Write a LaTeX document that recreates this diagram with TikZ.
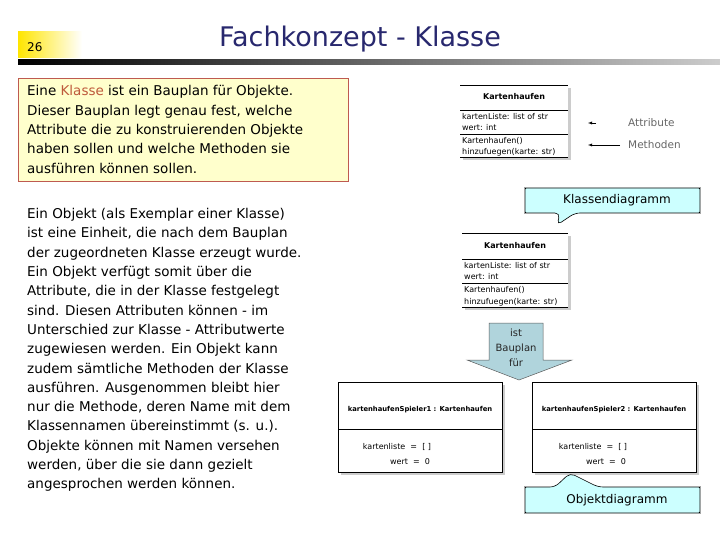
\documentclass[tikz,border=0pt]{standalone}
\usepackage{fontspec}
\setmainfont{DejaVu Sans}
\usetikzlibrary{shapes.arrows}
\definecolor{navy}{RGB}{40,40,110}
\definecolor{kl}{RGB}{190,90,60}
\definecolor{boxfill}{RGB}{255,255,204}
\definecolor{boxline}{RGB}{190,90,80}
\definecolor{callfill}{RGB}{204,255,255}
\definecolor{arrfill}{RGB}{176,212,220}
\tikzset{
 body/.style={anchor=west,font=\fontsize{13.5}{19.3}\selectfont,align=left,inner sep=0},
 uml/.style={font=\fontsize{8}{10}\selectfont,anchor=west,inner sep=0},
 umlb/.style={font=\bfseries\fontsize{8}{10}\selectfont,inner sep=0},
 objt/.style={font=\bfseries\fontsize{6.8}{9}\selectfont,inner sep=0},
 cls/.style={draw=black,fill=white,line width=0.6pt},
 call/.style={draw=black,fill=callfill,rounded corners=5pt,line width=0.6pt},
 lab/.style={font=\fontsize{10.5}{12}\selectfont,text=gray!80!black,anchor=west,inner sep=0}
}
\begin{document}
\begin{tikzpicture}[x=1pt,y=-1pt]
\useasboundingbox (0,0) rectangle (720,540);
% header
\shade[left color=yellow!80!orange,right color=white] (18,32) rectangle (82,58);
\node[anchor=west,font=\fontsize{12}{14}\selectfont,inner sep=0] (num) at (27,47) {26};
\shade[left color=black,right color=gray!40] (18,60) rectangle (720,65);
\node[text=navy,font=\fontsize{27}{30}\selectfont] (title) at (360,39) {Fachkonzept - Klasse};
% yellow box
\node[draw=boxline,fill=boxfill,anchor=north west,minimum width=330pt,minimum height=103pt,inner sep=0] (def) at (18,78) {};
\node[body] (deftext) at (27,129.5) {Eine \textcolor{kl}{Klasse} ist ein Bauplan für Objekte.\\Dieser Bauplan legt genau fest, welche\\Attribute die zu konstruierenden Objekte\\haben sollen und welche Methoden sie\\ausführen können sollen.};
\node[body] (obj) at (27,350) {Ein Objekt (als Exemplar einer Klasse)\\ist eine Einheit, die nach dem Bauplan\\der zugeordneten Klasse erzeugt wurde.\\Ein Objekt verfügt somit über die\\Attribute, die in der Klasse festgelegt\\sind. Diesen Attributen können - im\\Unterschied zur Klasse - Attributwerte\\zugewiesen werden. Ein Objekt kann\\zudem sämtliche Methoden der Klasse\\ausführen. Ausgenommen bleibt hier\\nur die Methode, deren Name mit dem\\Klassennamen übereinstimmt (s. u.).\\Objekte können mit Namen versehen\\werden, über die sie dann gezielt\\angesprochen werden können.};
% class box 1
\fill[gray!40] (463,88) rectangle (571,160);
\fill[white] (460,85) rectangle (568,157);
\draw (460,85) -- (568,85) (460,110) -- (568,110) (460,134) -- (568,134) (460,157) -- (568,157);
\node[umlb] (c1) at (514,97) {Kartenhaufen};
\node[uml] (c1a) at (462,117) {kartenListe: list of str};
\node[uml] (c1b) at (462,128) {wert: int};
\node[uml] (c1c) at (462,141) {Kartenhaufen()};
\node[uml] (c1d) at (462,152) {hinzufuegen(karte: str)};
% labels
\node[lab] (attr) at (628,123) {Attribute};
\node[lab] (meth) at (628,145) {Methoden};
\coordinate (a1) at (596,123); \coordinate (a2) at (588,123);
\draw[-latex] (a1) -- (a2);
\coordinate (m1) at (620,145); \coordinate (m2) at (588,145);
\draw[-latex] (m1) -- (m2);
% callout 1
\draw[call] (525,200) -- (525,193) arc(180:270:5) -- (695,188) arc(270:360:5) -- (700,208) arc(0:90:5) -- (575,213) -- (557,225) -- (560,213) -- (530,213) arc(90:180:5) -- cycle;
\node[font=\fontsize{12}{14}\selectfont] (kd) at (617,200) {Klassendiagramm};
% class box 2
\fill[gray!40] (465,236) rectangle (571,310);
\fill[white] (462,233) rectangle (568,307);
\draw (462,233) -- (568,233) (462,259) -- (568,259) (462,283) -- (568,283) (462,307) -- (568,307);
\node[umlb] (c2) at (515,246) {Kartenhaufen};
\node[uml] (c2a) at (464,266) {kartenListe: list of str};
\node[uml] (c2b) at (464,277) {wert: int};
\node[uml] (c2c) at (464,290) {Kartenhaufen()};
\node[uml] (c2d) at (464,302) {hinzufuegen(karte: str)};
% block arrow
\draw[fill=arrfill,draw=gray!70!black,line width=0.5pt] (489,323) -- (543,323) -- (543,360) -- (572,360) -- (519,380) -- (467,360) -- (489,360) -- cycle;
\node[font=\fontsize{10}{15}\selectfont,align=center,text=gray!30!black] (ist) at (516,348) {ist\\Bauplan\\für};
% object boxes
\fill[gray!40] (341,385) rectangle (505,475);
\draw[cls] (338,382) rectangle (502,472);
\draw (338,429) -- (502,429);
\node[objt] (o1) at (420,410) {kartenhaufenSpieler1 : Kartenhaufen};
\node[uml,anchor=center] (o1a) at (397,447) {kartenliste \ = \ [ ]};
\node[uml,anchor=center] (o1b) at (410,462) {wert \ = \ 0};
\fill[gray!40] (535,385) rectangle (699,475);
\draw[cls] (532,382) rectangle (696,472);
\draw (532,429) -- (696,429);
\node[objt] (o2) at (614,410) {kartenhaufenSpieler2 : Kartenhaufen};
\node[uml,anchor=center] (o2a) at (593,447) {kartenliste \ = \ [ ]};
\node[uml,anchor=center] (o2b) at (606,462) {wert \ = \ 0};
% callout 2
\draw[call] (525,492) arc(180:270:5) -- (555,487) -- (570,473) -- (598,487) -- (695,487) arc(270:360:5) -- (700,508) arc(0:90:5) -- (530,513) arc(90:180:5) -- cycle;
\node[font=\fontsize{12}{14}\selectfont] (od) at (617,500) {Objektdiagramm};
\end{tikzpicture}
\end{document}
